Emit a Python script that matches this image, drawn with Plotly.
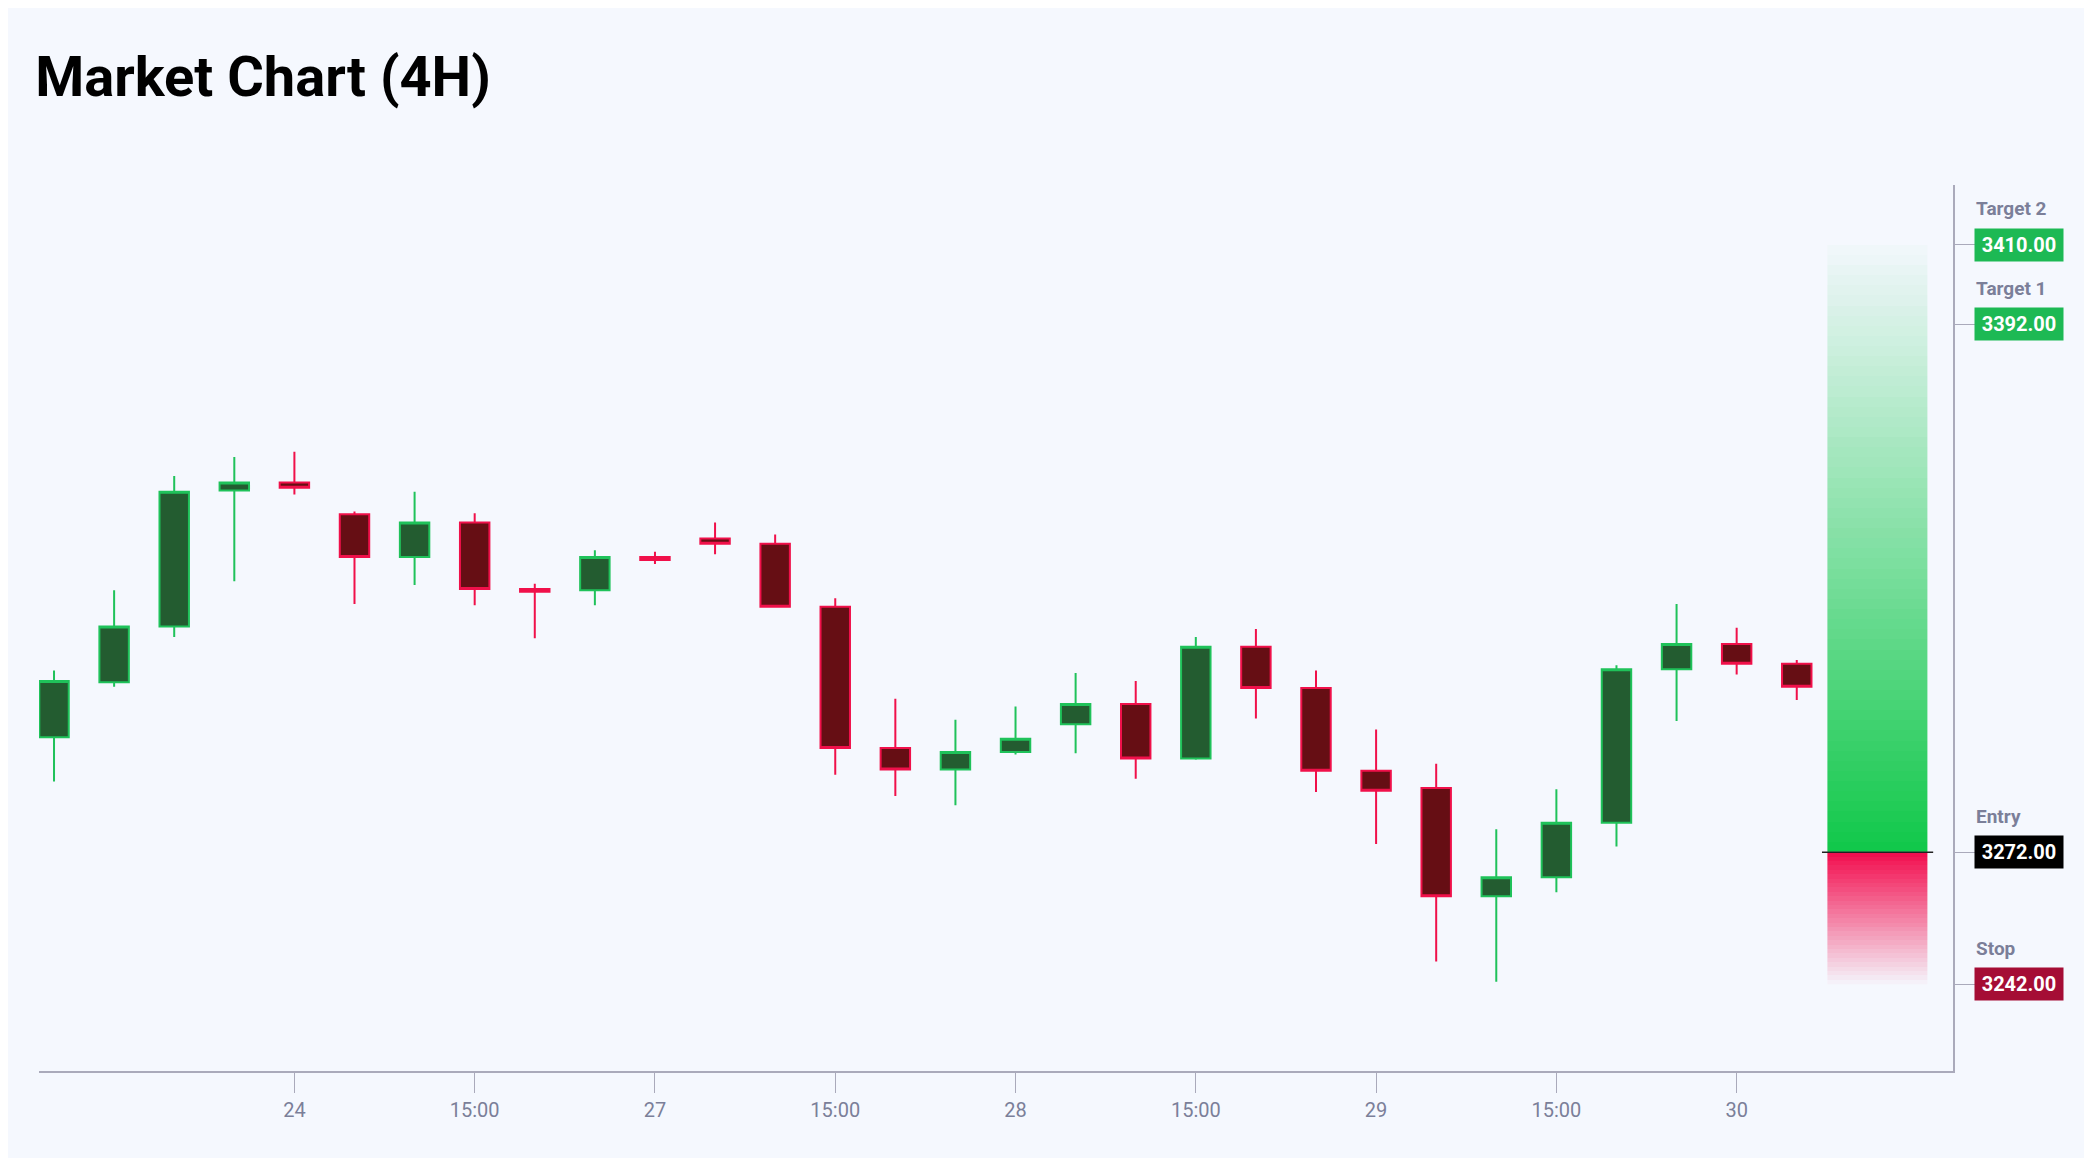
import numpy as np
import plotly.graph_objects as go

# candle index (4H bars) and OHLC
bars = list(range(30))
opens = [3298.1, 3310.6, 3323.3, 3354.2, 3356.0, 3348.8, 3339.1, 3346.9, 3331.8, 3331.5,
         3339.1, 3343.3, 3342.1, 3327.8, 3295.7, 3290.8, 3294.8, 3301.1, 3305.7, 3293.3,
         3318.7, 3309.3, 3290.5, 3286.6, 3262.0, 3266.3, 3278.7, 3313.6, 3319.3, 3314.8]
highs = [3313.3, 3331.5, 3357.5, 3361.8, 3363.0, 3349.4, 3353.9, 3349.0, 3333.0, 3340.6,
         3340.3, 3346.9, 3344.2, 3329.7, 3306.9, 3302.1, 3305.1, 3312.7, 3310.9, 3320.9,
         3322.7, 3313.3, 3299.9, 3292.1, 3277.2, 3286.3, 3314.5, 3328.4, 3323.0, 3315.7]
lows = [3288.1, 3309.6, 3320.9, 3333.6, 3353.3, 3328.4, 3332.7, 3328.1, 3320.6, 3328.1,
        3337.5, 3339.7, 3327.8, 3289.6, 3284.8, 3282.7, 3294.2, 3294.5, 3288.7, 3293.0,
        3302.4, 3285.7, 3273.9, 3247.2, 3242.6, 3262.9, 3273.3, 3301.8, 3312.4, 3306.6]
closes = [3310.9, 3323.3, 3353.9, 3356.0, 3354.8, 3339.1, 3346.9, 3331.8, 3331.2, 3339.1,
          3338.4, 3342.1, 3327.8, 3295.7, 3290.8, 3294.8, 3297.8, 3305.7, 3293.3, 3318.7,
          3309.3, 3290.5, 3286.0, 3262.0, 3266.3, 3278.7, 3313.6, 3319.3, 3314.8, 3309.6]

tick_pos = [4, 7, 10, 13, 16, 19, 22, 25, 28]
tick_text = ["24", "15:00", "27", "15:00", "28", "15:00", "29", "15:00", "30"]

entry = 3272.0
stop = 3242.0
target1 = 3392.0
target2 = 3410.0

zone_x = [29.51, 31.18]
grey = "#7b7f99"

fig = go.Figure()

# gradient zones drawn as heatmaps
n = 60
gy = np.linspace(entry, target2, n + 1)
fig.add_trace(go.Heatmap(
    x=zone_x, y=gy, z=[[i / (n - 1)] for i in range(n)],
    colorscale=[[0, "rgba(18,200,75,1)"], [1, "rgba(18,200,75,0.02)"]],
    showscale=False, hoverinfo="skip"))
ry = np.linspace(stop, entry, 31)
fig.add_trace(go.Heatmap(
    x=zone_x, y=ry, z=[[i / 29] for i in range(30)],
    colorscale=[[0, "rgba(242,16,80,0.03)"], [1, "rgba(242,16,80,1)"]],
    showscale=False, hoverinfo="skip"))

fig.add_trace(go.Candlestick(
    x=bars, open=opens, high=highs, low=lows, close=closes,
    increasing=dict(line=dict(color="#1fc25a", width=2), fillcolor="#235c30"),
    decreasing=dict(line=dict(color="#f0104a", width=2), fillcolor="#660e14"),
    whiskerwidth=0, showlegend=False))

fig.add_shape(type="line", x0=29.42, x1=31.27, y0=entry, y1=entry,
              line=dict(color="#222", width=1.5))

levels = [
    ("Target 2", target2, "#1db954"),
    ("Target 1", target1, "#1db954"),
    ("Entry", entry, "#000000"),
    ("Stop", stop, "#a50d35"),
]
for name, val, col in levels:
    fig.add_annotation(x=1.011, xref="paper", y=val, yref="y", xanchor="left",
                       text=f"<b>{val:.2f}</b>", showarrow=False, bgcolor=col,
                       font=dict(color="white", size=20, family="Roboto"),
                       width=84, height=28, borderpad=2, align="center")
    fig.add_annotation(x=1.011, xref="paper", y=val, yref="y", xanchor="left",
                       yshift=36, text=f"<b>{name}</b>", showarrow=False,
                       font=dict(color=grey, size=19, family="Roboto"))

fig.update_layout(
    width=2092, height=1158,
    title=dict(text="<b>Market Chart (4H)</b>", x=0.013, xanchor="left", y=0.958,
               font=dict(size=56, family="Roboto", color="#000")),
    paper_bgcolor="#f5f8fe", plot_bgcolor="#f5f8fe",
    margin=dict(l=31, r=147, t=177, b=95),
    font=dict(family="Roboto", color=grey),
    xaxis=dict(range=[-0.25, 31.6], tickvals=tick_pos, ticktext=tick_text,
               showgrid=False, zeroline=False, showline=True, linecolor="#aab",
               linewidth=2, ticks="outside", ticklen=20, tickcolor="#aab",
               tickfont=dict(size=20, color=grey), rangeslider=dict(visible=False)),
    yaxis=dict(range=[3222.3, 3423.6], side="right", tickvals=[stop, entry, target1, target2],
               showticklabels=False, showgrid=False, zeroline=False, showline=True,
               linecolor="#aab", linewidth=2, ticks="outside", ticklen=20, tickcolor="#aab"),
)

fig.write_html("out.html")
